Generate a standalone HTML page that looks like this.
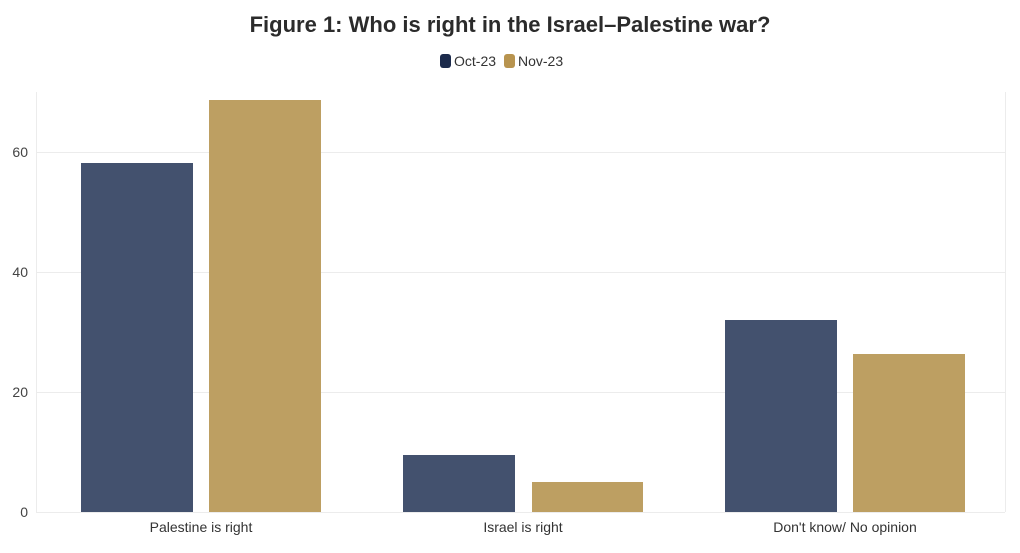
<!DOCTYPE html>
<html><head><meta charset="utf-8"><style>
body{margin:0;background:#fff;}
svg text{font-family:"Liberation Sans",sans-serif;}
</style></head><body>
<svg width="1020" height="548" xmlns="http://www.w3.org/2000/svg">
<rect width="1020" height="548" fill="#fff"/>
<text x="510" y="32" text-anchor="middle" font-size="22" font-weight="bold" fill="#2b2b2b">Figure 1: Who is right in the Israel–Palestine war?</text>
<rect x="440" y="54" width="11" height="14" rx="3" fill="#1c2b4c"/>
<text x="454" y="66" font-size="14" fill="#333">Oct-23</text>
<rect x="504" y="54" width="11" height="14" rx="3" fill="#b8944f"/>
<text x="518" y="66" font-size="14" fill="#333">Nov-23</text>
<g stroke="#ececec" stroke-width="1">
<line x1="36" y1="152.5" x2="1005" y2="152.5"/>
<line x1="36" y1="272.5" x2="1005" y2="272.5"/>
<line x1="36" y1="392.5" x2="1005" y2="392.5"/>
<line x1="36" y1="512.5" x2="1005" y2="512.5"/>
<line x1="36.5" y1="92" x2="36.5" y2="512"/>
<line x1="1005.5" y1="92" x2="1005.5" y2="512"/>
</g>
<g font-size="14" fill="#444" text-anchor="end">
<text x="28" y="157">60</text><text x="28" y="277">40</text><text x="28" y="397">20</text><text x="28" y="517">0</text>
</g>
<g fill="#43516e">
<rect x="81" y="163" width="112" height="349"/>
<rect x="403" y="455" width="112" height="57"/>
<rect x="725" y="320" width="112" height="192"/>
</g>
<g fill="#bd9f62">
<rect x="209" y="100" width="112" height="412"/>
<rect x="532" y="482" width="111" height="30"/>
<rect x="853" y="354" width="112" height="158"/>
</g>
<g font-size="14" fill="#333" text-anchor="middle">
<text x="201" y="532">Palestine is right</text>
<text x="523" y="532">Israel is right</text>
<text x="845" y="532">Don't know/ No opinion</text>
</g>
</svg>
</body></html>
